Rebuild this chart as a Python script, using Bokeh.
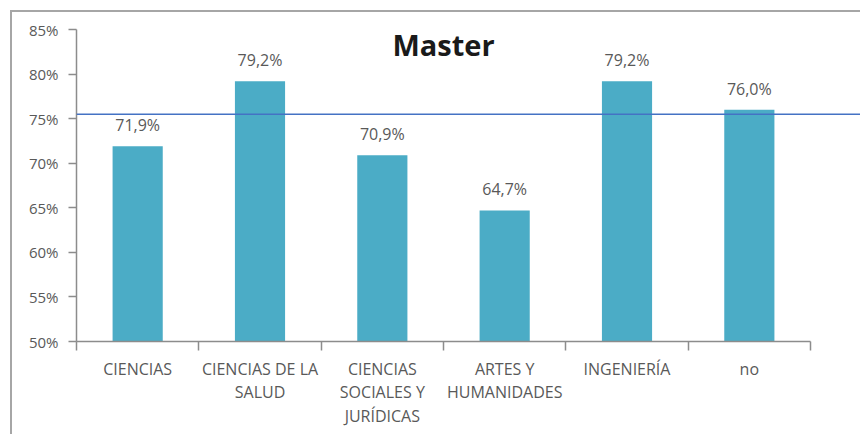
from bokeh.plotting import figure
from bokeh.models import Range1d, FixedTicker, LinearAxis, Span, Label, ColumnDataSource, PrintfTickFormatter
from bokeh.embed import file_html
from bokeh.resources import INLINE
from bokeh.core.properties import value

# ---- data ----
categories = ["CIENCIAS", "CIENCIAS DE LA\nSALUD", "CIENCIAS\nSOCIALES Y\nJURÍDICAS",
              "ARTES Y\nHUMANIDADES", "INGENIERÍA", "no"]
values = [71.9, 79.2, 70.9, 64.7, 79.2, 76.0]
reference_line = 75.5
y_ticks = [50, 55, 60, 65, 70, 75, 80, 85]
title_text = "Master"

n = len(categories)
positions = [i + 0.5 for i in range(n)]
boundaries = list(range(n + 1))
labels = [f"{v:.1f}".replace(".", ",") + "%" for v in values]

src = ColumnDataSource(dict(x=positions, top=values, label=labels))

FONT = "Open Sans"
AXIS_COLOR = "#8c8c8c"
TEXT_COLOR = "#595959"

p = figure(width=850, height=424, output_backend="svg", toolbar_location=None,
           x_range=Range1d(0, 6.425), y_range=Range1d(y_ticks[0], y_ticks[-1]),
           x_axis_type=None, y_axis_type=None,
           min_border_left=64, min_border_right=0, min_border_top=17, min_border_bottom=95)
p.outline_line_color = None
p.background_fill_color = "white"
p.border_fill_color = "white"
p.styles = {"position": "relative", "left": "10px", "top": "10px",
            "border-left": "2px solid #a6a6a6", "border-top": "2px solid #a6a6a6"}

p.vbar(x="x", top="top", bottom=y_ticks[0], width=0.41, source=src,
       fill_color="#4BACC6", line_color=None)

p.text(x="x", y="top", text="label", source=src, text_align="center",
       text_baseline="alphabetic", y_offset=-21, text_font=value(FONT),
       text_font_size="16px", text_color=TEXT_COLOR)

p.add_layout(Span(location=reference_line, dimension="width",
                  line_color="#4472C4", line_width=1.5))

p.add_layout(Label(x=n / 2, y=83.3, text=title_text, text_align="center",
                   text_baseline="alphabetic", text_font=FONT, text_font_style="bold",
                   text_font_size="29px", text_color="#1a1a1a"))

yaxis = LinearAxis(ticker=FixedTicker(ticks=y_ticks),
                   formatter=PrintfTickFormatter(format="%d%%"),
                   major_tick_out=8, major_tick_in=0, minor_tick_line_color=None,
                   major_label_standoff=10,
                   axis_line_color=AXIS_COLOR, major_tick_line_color=AXIS_COLOR,
                   axis_line_width=1.5, major_tick_line_width=1.5,
                   major_label_text_font=FONT, major_label_text_font_size="15px",
                   major_label_text_color=TEXT_COLOR)
p.add_layout(yaxis, "left")

xaxis = LinearAxis(ticker=FixedTicker(ticks=positions, minor_ticks=boundaries),
                   major_label_overrides={pos: cat for pos, cat in zip(positions, categories)},
                   bounds=(0, n),
                   major_tick_line_color=None, major_tick_out=0, major_tick_in=0,
                   minor_tick_out=9, minor_tick_in=0, minor_tick_line_color=AXIS_COLOR,
                   minor_tick_line_width=1.5,
                   axis_line_color=AXIS_COLOR, axis_line_width=1.5,
                   major_label_standoff=7,
                   major_label_text_font=FONT, major_label_text_font_size="16px",
                   major_label_text_color=TEXT_COLOR,
                   major_label_text_line_height=1.08)
p.add_layout(xaxis, "below")

open("out.html", "w").write(file_html(p, INLINE))
